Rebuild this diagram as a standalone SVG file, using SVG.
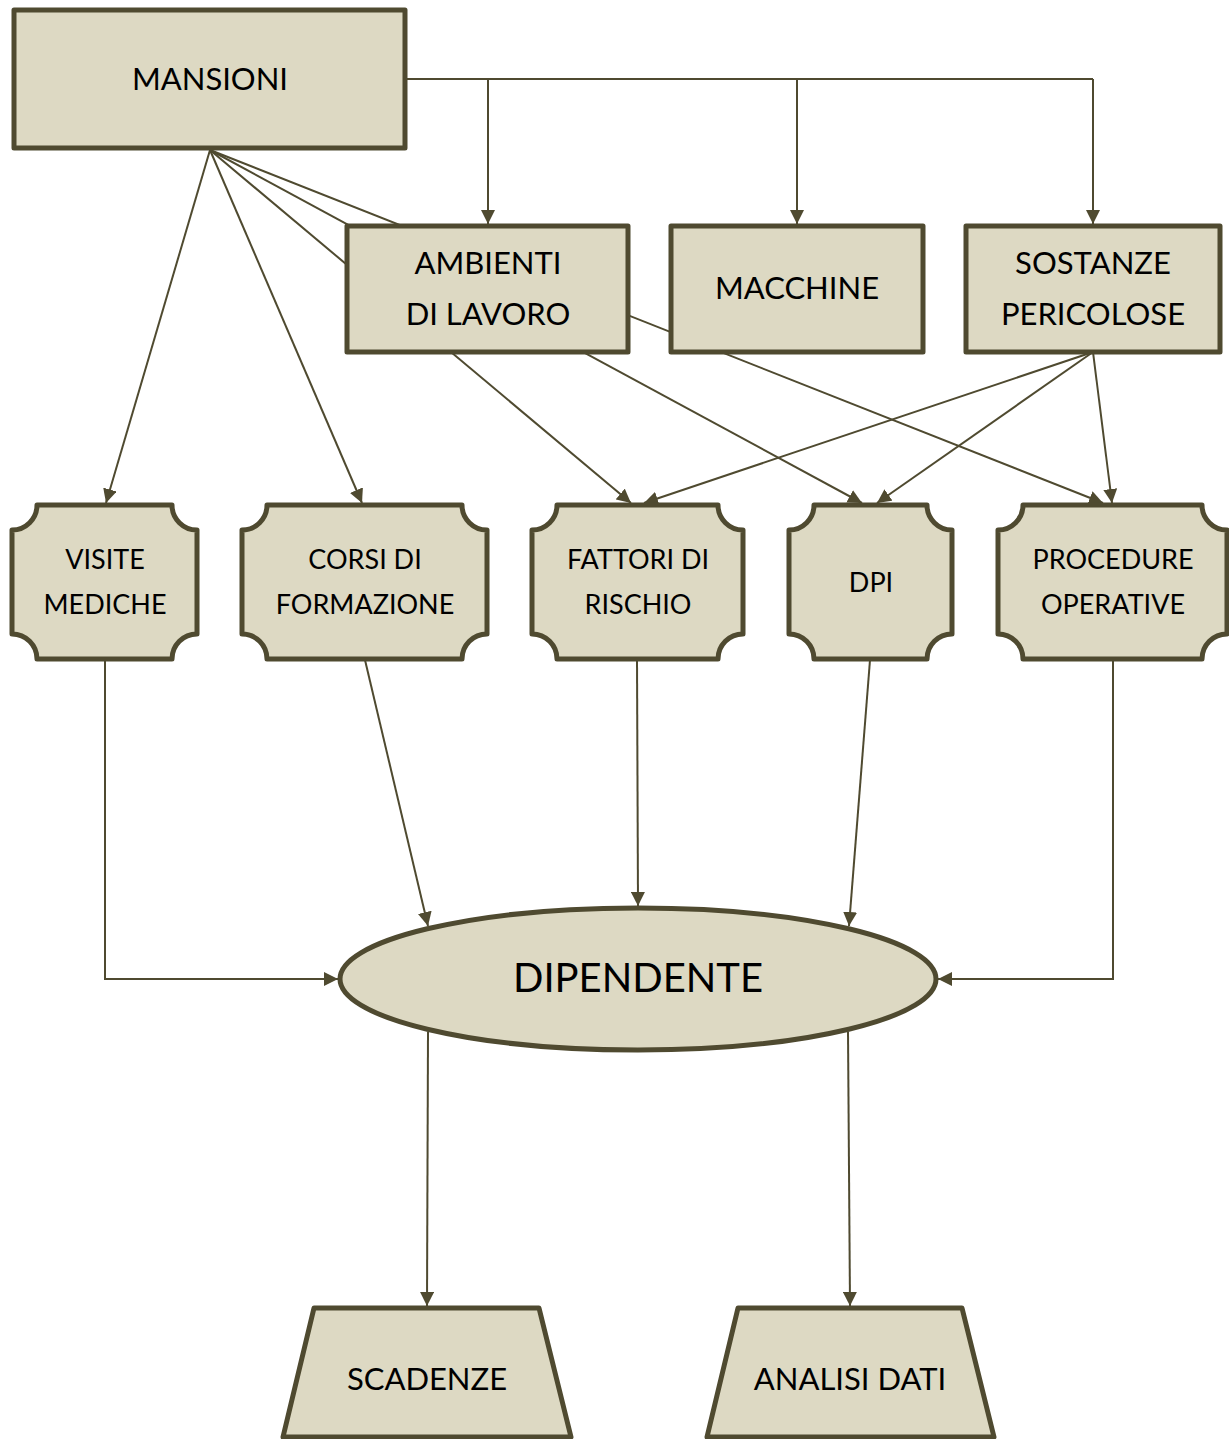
<svg xmlns="http://www.w3.org/2000/svg" width="1229" height="1439" viewBox="0 0 1229 1439">
<style>
.n{fill:#ddd9c3;stroke:#4f4a30;stroke-width:5;stroke-linejoin:round}
.c{fill:none;stroke:#4f4a30;stroke-width:2}
.a{marker-end:url(#ar)}
text{font-family:Lato,"Liberation Sans",sans-serif;fill:#000;text-anchor:middle;dominant-baseline:central}
.t31{font-size:31px}
.t27{font-size:27px}
.t40{font-size:40px}
</style>
<defs>
<marker id="ar" viewBox="0 0 14 14" refX="14" refY="7" markerWidth="14" markerHeight="14" markerUnits="userSpaceOnUse" orient="auto">
<path d="M0,0 L14,7 L0,14 Z" fill="#4f4a30"/>
</marker>
</defs>
<rect width="1229" height="1439" fill="#fff"/>
<g id="connectors">
<path class="c" d="M405,79 H1093"/>
<path class="c a" d="M488,79 V224"/>
<path class="c a" d="M797,79 V224"/>
<path class="c a" d="M1093,79 V224"/>
<path class="c a" d="M210,150 L106,503"/>
<path class="c a" d="M210,150 L362,503"/>
<path class="c a" d="M210,150 L631,503"/>
<path class="c a" d="M210,150 L862,503"/>
<path class="c a" d="M210,150 L1103,503"/>
<path class="c a" d="M1093,352 L644,503"/>
<path class="c a" d="M1093,352 L877,503"/>
<path class="c a" d="M1093,352 L1112,503"/>
<path class="c a" d="M105,660 V979 H338"/>
<path class="c a" d="M365,660 L428,926"/>
<path class="c a" d="M637,660 L638,906"/>
<path class="c a" d="M870,660 L849,926"/>
<path class="c a" d="M1113,660 V979 H938"/>
<path class="c a" d="M428,1032 L427,1306"/>
<path class="c a" d="M848,1032 L850,1306"/>
</g>
<g id="mansioni"><rect class="n" x="14" y="10" width="391" height="138"/><text class="t31" x="210" y="78">MANSIONI</text></g>
<g id="ambienti"><rect class="n" x="347" y="226" width="281" height="126"/><text class="t31" x="488" y="262">AMBIENTI</text><text class="t31" x="488" y="313">DI LAVORO</text></g>
<g id="macchine"><rect class="n" x="671" y="226" width="252" height="126"/><text class="t31" x="797" y="287">MACCHINE</text></g>
<g id="sostanze"><rect class="n" x="966" y="226" width="254" height="126"/><text class="t31" x="1093" y="262">SOSTANZE</text><text class="t31" x="1093" y="313">PERICOLOSE</text></g>
<g id="visite"><path class="n" d="M37,505 H172 A25,25 0 0 0 197,530 V634 A25,25 0 0 0 172,659 H37 A25,25 0 0 0 12,634 V530 A25,25 0 0 0 37,505 Z"/><text class="t27" x="105" y="558">VISITE</text><text class="t27" x="105" y="603">MEDICHE</text></g>
<g id="corsi"><path class="n" d="M267,505 H462 A25,25 0 0 0 487,530 V634 A25,25 0 0 0 462,659 H267 A25,25 0 0 0 242,634 V530 A25,25 0 0 0 267,505 Z"/><text class="t27" x="365" y="558">CORSI DI</text><text class="t27" x="365" y="603">FORMAZIONE</text></g>
<g id="fattori"><path class="n" d="M557,505 H718 A25,25 0 0 0 743,530 V634 A25,25 0 0 0 718,659 H557 A25,25 0 0 0 532,634 V530 A25,25 0 0 0 557,505 Z"/><text class="t27" x="638" y="558">FATTORI DI</text><text class="t27" x="638" y="603">RISCHIO</text></g>
<g id="dpi"><path class="n" d="M814,505 H927 A25,25 0 0 0 952,530 V634 A25,25 0 0 0 927,659 H814 A25,25 0 0 0 789,634 V530 A25,25 0 0 0 814,505 Z"/><text class="t27" x="871" y="581">DPI</text></g>
<g id="procedure"><path class="n" d="M1023,505 H1202 A25,25 0 0 0 1227,530 V634 A25,25 0 0 0 1202,659 H1023 A25,25 0 0 0 998,634 V530 A25,25 0 0 0 1023,505 Z"/><text class="t27" x="1113" y="558">PROCEDURE</text><text class="t27" x="1113" y="603">OPERATIVE</text></g>
<g id="dipendente"><ellipse class="n" cx="638" cy="979" rx="298" ry="71"/><text class="t40" x="638" y="977">DIPENDENTE</text></g>
<g id="scadenze"><path class="n" d="M314,1308 H539 L571,1437 H283 Z"/><text class="t31" x="427" y="1378">SCADENZE</text></g>
<g id="analisi"><path class="n" d="M738,1308 H962 L994,1437 H707 Z"/><text class="t31" x="850" y="1378">ANALISI DATI</text></g>
</svg>
